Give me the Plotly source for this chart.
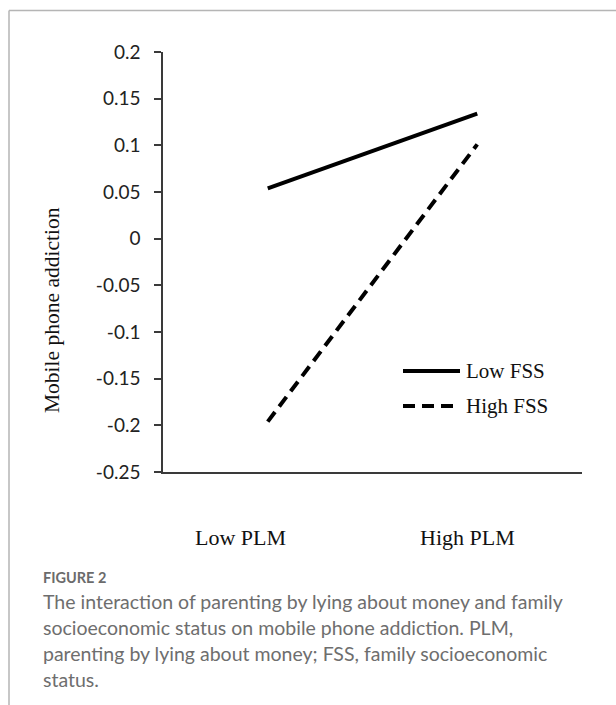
import plotly.graph_objects as go

# ---- data ----
categories = ["Low PLM", "High PLM"]
series_names = ["Low FSS", "High FSS"]
low_fss = [0.054, 0.134]
high_fss = [-0.196, 0.101]
y_tickvals = [0.2, 0.15, 0.1, 0.05, 0, -0.05, -0.1, -0.15, -0.2, -0.25]
y_ticktext = ["0.2", "0.15", "0.1", "0.05", "0", "-0.05", "-0.1", "-0.15", "-0.2", "-0.25"]
y_title = "Mobile phone addiction"
fig_label = "FIGURE 2"
caption_lines = [
    "The interaction of parenting by lying about money and family",
    "socioeconomic status on mobile phone addiction. PLM,",
    "parenting by lying about money; FSS, family socioeconomic",
    "status.",
]

W, H = 616, 705
L, R, T, B = 163, 34, 52, 233
PW, PH = W - L - R, H - T - B


def px(x):
    return (x - L) / PW


def py(y):
    return (H - B - y) / PH


serif = "Liberation Serif, Times New Roman, serif"
sans = "Lato, Open Sans, sans-serif"
dash_style = "12px,7px"

fig = go.Figure()
fig.add_trace(go.Scatter(x=[0, 1], y=low_fss, mode="lines", name=series_names[0],
                         line=dict(color="black", width=4), showlegend=False))
fig.add_trace(go.Scatter(x=[0, 1], y=high_fss, mode="lines", name=series_names[1],
                         line=dict(color="black", width=4, dash=dash_style), showlegend=False))

shapes = []
annotations = []

# border of the page panel
shapes.append(dict(type="line", xref="paper", yref="paper", x0=px(9), x1=px(616), y0=py(10.5), y1=py(10.5),
                   line=dict(color="#b5b5b5", width=1.5)))
shapes.append(dict(type="line", xref="paper", yref="paper", x0=px(9), x1=px(9), y0=py(10.5), y1=py(705),
                   line=dict(color="#b5b5b5", width=1.5)))

# legend
leg_y = [371, 406]
leg_dash = ["solid", dash_style]
leg_x1 = [460, 455]
for i, name in enumerate(series_names):
    shapes.append(dict(type="line", xref="paper", yref="paper", x0=px(403), x1=px(leg_x1[i]),
                       y0=py(leg_y[i]), y1=py(leg_y[i]),
                       line=dict(color="black", width=4, dash=leg_dash[i])))
    annotations.append(dict(xref="paper", yref="paper", x=px(464), y=py(leg_y[i]), xanchor="left",
                            yanchor="middle", text=name, showarrow=False,
                            font=dict(family=serif, size=21, color="#111")))

# category labels
cat_x = [240, 467]
for cx, c in zip(cat_x, categories):
    annotations.append(dict(xref="paper", yref="paper", x=px(cx), y=py(537), xanchor="center",
                            yanchor="middle", text=c, showarrow=False,
                            font=dict(family=serif, size=22, color="#111")))

# y-axis title
annotations.append(dict(xref="paper", yref="paper", x=px(52), y=py(310), xanchor="center",
                        yanchor="middle", text=y_title, textangle=-90, showarrow=False,
                        font=dict(family=serif, size=21.5, color="#111")))

# caption
annotations.append(dict(xref="paper", yref="paper", x=px(41), y=py(577), xanchor="left",
                        yanchor="middle", text="<b>" + fig_label + "</b>", showarrow=False,
                        font=dict(family=sans, size=14.5, color="#6b6b6b")))
for i, line in enumerate(caption_lines):
    annotations.append(dict(xref="paper", yref="paper", x=px(41), y=py(601 + 26.3 * i), xanchor="left",
                            yanchor="middle", text=line, showarrow=False,
                            font=dict(family=sans, size=19.5, color="#6e6e6e")))

fig.update_layout(
    width=W, height=H,
    margin=dict(l=L, r=R, t=T, b=B),
    paper_bgcolor="white", plot_bgcolor="white",
    shapes=shapes, annotations=annotations,
    showlegend=False,
)
fig.update_xaxes(range=[-0.5, 1.5], showticklabels=False, showgrid=False, zeroline=False,
                 showline=True, linecolor="#3a3a3a", linewidth=1.5, ticks="")
fig.update_yaxes(range=[-0.25, 0.2], tickvals=y_tickvals, ticktext=y_ticktext, showgrid=False,
                 zeroline=False, showline=True, linecolor="#3a3a3a", linewidth=1.5,
                 ticks="outside", ticklen=7, tickwidth=1.5, tickcolor="#3a3a3a",
                 ticklabelstandoff=10, tickfont=dict(family=sans, size=19, color="#222"))

fig.write_html("out.html", config={"displayModeBar": False},
               post_script="document.body.style.margin='0';")
